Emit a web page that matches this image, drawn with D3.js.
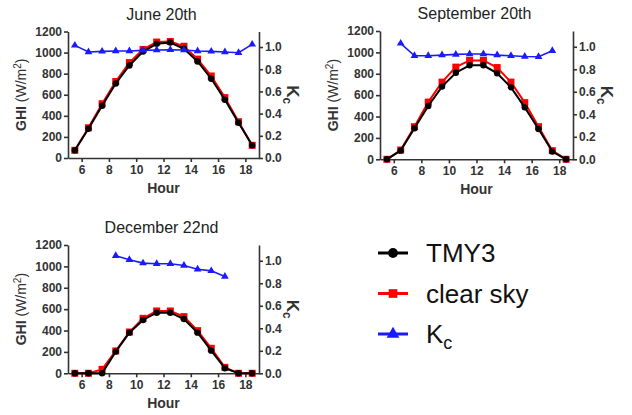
<!DOCTYPE html>
<html>
<head>
<meta charset="utf-8">
<script src="https://cdn.jsdelivr.net/npm/d3@7"></script>
<style>
body { margin:0; background:#fff; }
svg { font-family: "Liberation Sans", Arial, sans-serif; }
.axis path, .axis line { stroke:#333; stroke-width:1.6; }
.axis text { font-size:12px; font-weight:bold; fill:#333; }
</style>
</head>
<body>
<svg id="chart" width="632" height="415"></svg>
<script>

// hours of the day (mid points of each hour)
var hours = [5.5,6.5,7.5,8.5,9.5,10.5,11.5,12.5,13.5,14.5,15.5,16.5,17.5,18.5]
var hourTicks = [6,8,10,12,14,16,18]
var ghiTicks = [0,200,400,600,800,1000,1200]
var kcTicks = [0,0.2,0.4,0.6,0.8,1.0]

// June 20th
var juneTMY3  = [73,278,496,707,878,1010,1083,1095,1036,916,752,553,335,120]
var juneClear = [73,287,515,726,905,1030,1100,1105,1060,938,778,573,344,120]
var juneKc    = [1.015,0.955,0.961,0.964,0.964,0.97,0.973,0.976,0.973,0.964,0.961,0.955,0.949,1.024]

// September 20th
var sepTMY3  = [0,81,290,499,680,810,879,879,804,673,486,284,72,0]
var sepClear = [0,87,305,535,722,862,925,925,858,722,530,305,81,0]
var sepKc    = [null,1.03,0.92,0.92,0.926,0.932,0.935,0.935,0.926,0.92,0.914,0.911,0.964,null]

// December 22nd
var decTMY3  = [0,0,0,203,380,499,567,567,508,380,212,47,0,0]
var decClear = [0,0,37,209,386,514,583,583,530,399,234,56,0,0]
var decKc    = [null,null,null,1.045,1.009,0.979,0.973,0.973,0.958,0.925,0.91,0.86,null,null]

var svg = d3.select("#chart")

function buildPanel(title, tmy, clear, kc, left, top, width, height)
{
  var g = svg.append("g").attr("transform", "translate(" + left + "," + top + ")")

  var xScale = d3.scaleLinear().domain([5, 19]).range([0, width])
  var yScale = d3.scaleLinear().domain([0, 1200]).range([height, 0])
  var kScale = d3.scaleLinear().domain([0, 1.14]).range([height, 0])

  // axes
  g.append("g").attr("class", "axis")
      .attr("transform", "translate(0," + height + ")")
      .call(d3.axisBottom(xScale).tickValues(hourTicks).tickSize(4).tickPadding(3).tickSizeOuter(0))
  g.append("g").attr("class", "axis")
      .call(d3.axisLeft(yScale).tickValues(ghiTicks).tickFormat(d3.format("d")).tickSize(4).tickPadding(2).tickSizeOuter(0))
  g.append("g").attr("class", "axis")
      .attr("transform", "translate(" + width + ",0)")
      .call(d3.axisRight(kScale).tickValues(kcTicks).tickFormat(d3.format(".1f")).tickSize(4).tickPadding(2).tickSizeOuter(0))

  var lineGHI = function(vals) {
    return d3.line()
      .x(function(d, i) { return xScale(hours[i]) })
      .y(function(d) { return yScale(d) })(vals)
  }

  // clear sky (red squares) first, TMY3 drawn over it
  g.append("path").attr("d", lineGHI(clear))
      .attr("fill", "none").attr("stroke", "#ff0000").attr("stroke-width", 2)
  g.selectAll(".sq").data(clear).enter().append("rect")
      .attr("x", function(d, i) { return xScale(hours[i]) - 3.5 })
      .attr("y", function(d) { return yScale(d) - 3.5 })
      .attr("width", 7).attr("height", 7).attr("fill", "#ff0000")

  g.append("path").attr("d", lineGHI(tmy))
      .attr("fill", "none").attr("stroke", "#000").attr("stroke-width", 2)
  g.selectAll(".dot").data(tmy).enter().append("circle")
      .attr("cx", function(d, i) { return xScale(hours[i]) })
      .attr("cy", function(d) { return yScale(d) })
      .attr("r", 3.2).attr("fill", "#000")

  // Kc on the right axis
  var lineKc = d3.line()
      .defined(function(d) { return d != null })
      .x(function(d, i) { return xScale(hours[i]) })
      .y(function(d) { return kScale(d) })
  g.append("path").attr("d", lineKc(kc))
      .attr("fill", "none").attr("stroke", "#1a1aff").attr("stroke-width", 1.6)
  var kcPts = []
  kc.forEach(function(d, i) { if (d != null) kcPts.push([hours[i], d]) })
  g.selectAll(".tri").data(kcPts).enter().append("path")
      .attr("d", d3.symbol().type(d3.symbolTriangle).size(26))
      .attr("transform", function(d) { return "translate(" + xScale(d[0]) + "," + kScale(d[1]) + ")" })
      .attr("fill", "#1a1aff")

  // titles and labels
  g.append("text").attr("x", width / 2 - 2).attr("y", -12)
      .attr("text-anchor", "middle").attr("font-size", 16).attr("fill", "#222")
      .text(title)
  g.append("text").attr("x", width / 2).attr("y", height + 35)
      .attr("text-anchor", "middle").attr("font-size", 14).attr("font-weight", "bold").attr("fill", "#333")
      .text("Hour")

  var yl = g.append("text")
      .attr("transform", "translate(-42," + (height / 2) + ") rotate(-90)")
      .attr("text-anchor", "middle").attr("font-size", 14).attr("fill", "#333")
  yl.append("tspan").attr("font-weight", "bold").text("GHI ")
  yl.append("tspan").text("(W/m")
  yl.append("tspan").attr("font-size", 10).attr("dy", -5).text("2")
  yl.append("tspan").attr("dy", 5).text(")")

  var kl = g.append("text")
      .attr("transform", "translate(" + (width + 28) + "," + (height / 2) + ") rotate(90)")
      .attr("text-anchor", "middle").attr("font-size", 17).attr("font-weight", "bold").attr("fill", "#333")
  kl.append("tspan").text("K")
  kl.append("tspan").attr("font-size", 12).attr("dy", 4).text("c")
}

buildPanel("June 20th", juneTMY3, juneClear, juneKc, 68, 31.5, 191, 126.5)
buildPanel("September 20th", sepTMY3, sepClear, sepKc, 380, 31, 193, 128.3)
buildPanel("December 22nd", decTMY3, decClear, decKc, 68, 245, 191, 128.3)

// legend
var legendNames = ["TMY3", "clear sky", "K"]
var legendColors = ["#000", "#ff0000", "#1a1aff"]
var legendShapes = [d3.symbolCircle, d3.symbolSquare, d3.symbolTriangle]
var legendY = d3.scalePoint().domain(legendNames).range([253, 334])

var lg = svg.append("g")
legendNames.forEach(function(name, i) {
  var y = legendY(name)
  lg.append("line").attr("x1", 378).attr("x2", 408).attr("y1", y).attr("y2", y)
      .attr("stroke", legendColors[i]).attr("stroke-width", 3)
  lg.append("path").attr("d", d3.symbol().type(legendShapes[i]).size(i == 2 ? 70 : 75))
      .attr("transform", "translate(393," + y + ")").attr("fill", legendColors[i])
  var t = lg.append("text").attr("x", 426).attr("y", y + 9)
      .attr("font-size", 26).attr("fill", "#111").text(name)
  if (i == 2) t.append("tspan").attr("font-size", 18).attr("dy", 6).text("c")
})

</script>
</body>
</html>
